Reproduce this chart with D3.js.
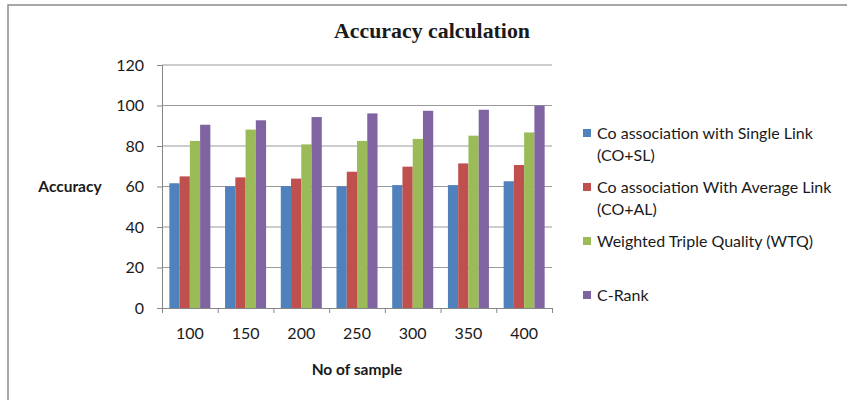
<!DOCTYPE html>
<html>
<head>
<meta charset="utf-8">
<script src="https://cdn.jsdelivr.net/npm/d3@7"></script>
<style>
  body { margin: 0; background: #fff; }
  text { font-family: Lato, "Liberation Sans", sans-serif; fill: #1a1a1a; }
</style>
</head>
<body>
<div id="chart"></div>
<script>
// data
const samples = ['100', '150', '200', '250', '300', '350', '400'];
const seriesNames = ['CO+SL', 'CO+AL', 'WTQ', 'C-Rank'];
const coSL = [61.6, 60.1, 60.2, 60.1, 60.7, 60.7, 62.6];
const coAL = [65.0, 64.5, 63.9, 67.3, 69.8, 71.4, 70.6];
const wtq = [82.5, 88.1, 80.8, 82.5, 83.5, 85.1, 86.7];
const cRank = [90.5, 92.7, 94.3, 96.1, 97.4, 97.9, 100];
const legendLabels = [
  ['Co association with Single Link', '(CO+SL)'],
  ['Co association With Average Link', '(CO+AL)'],
  ['Weighted Triple Quality (WTQ)'],
  ['C-Rank']
];
const yTicks = [0, 20, 40, 60, 80, 100, 120];

const colors = ['#4F81BD', '#C0504D', '#9BBB59', '#8064A2'];
const values = [coSL, coAL, wtq, cRank];
const data = samples.map((s, i) => ({ sample: s, vals: values.map(v => v[i]) }));

const W = 847, H = 400;
const plot = { left: 162, right: 552, top: 65, bottom: 308 };

const svg = d3.select('#chart').append('svg')
  .attr('width', W)
  .attr('height', H);

// outer frame (runs off the right and bottom edges)
svg.append('rect')
  .attr('x', 8).attr('y', 5)
  .attr('width', 900).attr('height', 500)
  .attr('fill', '#fff')
  .attr('stroke', '#8a8a8a')
  .attr('stroke-width', 1.5);

// scales
const y = d3.scaleLinear().domain([0, 120]).range([plot.bottom, plot.top]);
const x0 = d3.scaleBand().domain(samples)
  .range([plot.left, plot.right])
  .paddingInner(0.264).paddingOuter(0.132);
const x1 = d3.scaleBand().domain(seriesNames).range([0, x0.bandwidth()]);
const xEdges = d3.scaleLinear().domain([0, samples.length]).range([plot.left, plot.right]);

// gridlines
svg.append('g')
  .selectAll('line')
  .data(yTicks.slice(1))
  .enter().append('line')
  .attr('x1', plot.left).attr('x2', plot.right)
  .attr('y1', d => y(d)).attr('y2', d => y(d))
  .attr('stroke', '#9a9a9a')
  .attr('stroke-width', 1);

// bars
const groups = svg.append('g')
  .selectAll('g')
  .data(data)
  .enter().append('g')
  .attr('transform', d => `translate(${x0(d.sample)},0)`);

groups.selectAll('rect')
  .data(d => d.vals.map((v, k) => ({ key: seriesNames[k], v: v, k: k })))
  .enter().append('rect')
  .attr('x', d => x1(d.key))
  .attr('y', d => y(d.v))
  .attr('width', x1.bandwidth())
  .attr('height', d => y(0) - y(d.v))
  .attr('fill', d => colors[d.k]);

// y axis
const yAxis = svg.append('g')
  .attr('transform', `translate(${plot.left},0)`)
  .call(d3.axisLeft(y).tickValues(yTicks).tickSize(5).tickPadding(13));
yAxis.select('.domain').attr('stroke', '#868686');
yAxis.selectAll('.tick line').attr('stroke', '#868686');
yAxis.selectAll('.tick text')
  .style('font-size', '16px')
  .attr('fill', '#1a1a1a');

// x axis: tick marks on category edges, labels centred
const xTickAxis = svg.append('g')
  .attr('transform', `translate(0,${plot.bottom})`)
  .call(d3.axisBottom(xEdges).ticks(samples.length).tickSize(5).tickFormat(''));
xTickAxis.select('.domain').attr('stroke', '#868686');
xTickAxis.selectAll('.tick line').attr('stroke', '#868686');

const xLabelAxis = svg.append('g')
  .attr('transform', `translate(0,${plot.bottom})`)
  .call(d3.axisBottom(x0).tickSize(0).tickPadding(20));
xLabelAxis.select('.domain').remove();
xLabelAxis.selectAll('.tick text')
  .style('font-size', '16px')
  .attr('fill', '#1a1a1a');

// title
svg.append('text')
  .attr('x', 432).attr('y', 38)
  .attr('text-anchor', 'middle')
  .style('font-family', '"Liberation Serif", "Times New Roman", serif')
  .style('font-weight', 'bold')
  .style('font-size', '20px')
  .attr('textLength', 196)
  .attr('lengthAdjust', 'spacingAndGlyphs')
  .text('Accuracy calculation');

// axis titles
svg.append('text')
  .attr('x', 70).attr('y', 192)
  .attr('text-anchor', 'middle')
  .style('font-weight', 'bold')
  .style('font-size', '15.5px')
  .text('Accuracy');

svg.append('text')
  .attr('x', 357).attr('y', 375)
  .attr('text-anchor', 'middle')
  .style('font-weight', 'bold')
  .style('font-size', '15.5px')
  .text('No of sample');

// legend
const legend = svg.append('g').attr('id', 'legend');
const legendItems = legend.selectAll('g')
  .data(legendLabels)
  .enter().append('g')
  .attr('transform', (d, i) => `translate(583,${133 + i * 54})`);

legendItems.append('rect')
  .attr('x', 0).attr('y', -4)
  .attr('width', 8).attr('height', 8)
  .attr('fill', (d, i) => colors[i]);

legendItems.append('text')
  .attr('x', 14)
  .style('font-size', '16px')
  .selectAll('tspan')
  .data(d => d)
  .enter().append('tspan')
  .attr('x', 14)
  .attr('y', (d, j) => 5.5 + j * 22)
  .text(d => d);
</script>
</body>
</html>
